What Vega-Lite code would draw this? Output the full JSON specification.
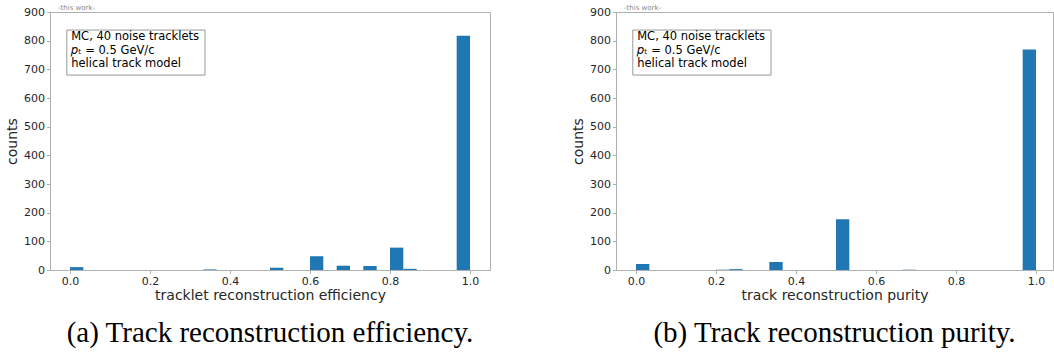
{
  "$schema": "https://vega.github.io/schema/vega-lite/v6.json",
  "background": "white",
  "padding": {"left": 5, "top": 3, "right": 0, "bottom": 5},
  "spacing": 80,
  "config": {
    "view": {"stroke": "#b0b0b0", "strokeWidth": 1},
    "font": "DejaVu Sans",
    "axis": {
      "grid": false,
      "domainColor": "#b0b0b0",
      "tickColor": "#b0b0b0",
      "tickSize": 3.5,
      "labelFont": "DejaVu Sans",
      "labelFontSize": 11,
      "labelColor": "#262626",
      "labelPadding": 2,
      "labelOverlap": false,
      "titleFont": "DejaVu Sans",
      "titleFontSize": 14,
      "titleFontWeight": "normal",
      "titleColor": "#262626"
    }
  },
  "datasets": {
    "eff": [
      {"lo": 0.0, "hi": 0.0333, "count": 10},
      {"lo": 0.3333, "hi": 0.3667, "count": 2},
      {"lo": 0.5, "hi": 0.5333, "count": 8},
      {"lo": 0.6, "hi": 0.6333, "count": 48},
      {"lo": 0.6667, "hi": 0.7, "count": 15},
      {"lo": 0.7333, "hi": 0.7667, "count": 14},
      {"lo": 0.8, "hi": 0.8333, "count": 78},
      {"lo": 0.8333, "hi": 0.8667, "count": 4},
      {"lo": 0.9667, "hi": 1.0, "count": 817}
    ],
    "pur": [
      {"lo": 0.0, "hi": 0.0333, "count": 21},
      {"lo": 0.2, "hi": 0.2333, "count": 1},
      {"lo": 0.2333, "hi": 0.2667, "count": 3},
      {"lo": 0.3333, "hi": 0.3667, "count": 28},
      {"lo": 0.5, "hi": 0.5333, "count": 177},
      {"lo": 0.6667, "hi": 0.7, "count": 1},
      {"lo": 0.9667, "hi": 1.0, "count": 769}
    ],
    "box": [
      {"x1": -0.008, "x2": 0.3375, "y1": 680, "y2": 837, "tx": 0.003, "ty": 833, "label": "MC, 40 noise tracklets\n𝑝ₜ = 0.5 GeV/c\nhelical track model", "tag": "-this work-", "wx": -0.03, "wy": 900}
    ]
  },
  "hconcat": [
    {
      "width": 440,
      "height": 258,
      "title": {"text": "(a) Track reconstruction efficiency.", "orient": "bottom", "anchor": "middle", "frame": "group", "font": "Liberation Serif", "fontSize": 29, "fontWeight": "normal", "color": "black", "offset": 16},
      "layer": [
        {
          "data": {"name": "eff"},
          "mark": {"type": "bar", "color": "#1f77b4"},
          "encoding": {
            "x": {"field": "lo", "type": "quantitative", "scale": {"domain": [-0.05, 1.05], "nice": false, "zero": false}, "axis": {"values": [0, 0.2, 0.4, 0.6, 0.8, 1.0], "format": ".1f", "title": "tracklet reconstruction efficiency", "titlePadding": 2}},
            "x2": {"field": "hi"},
            "y": {"field": "count", "type": "quantitative", "scale": {"domain": [0, 900], "nice": false}, "axis": {"values": [0, 100, 200, 300, 400, 500, 600, 700, 800, 900], "title": "counts", "titlePadding": 4}},
            "y2": {"datum": 0}
          }
        },
        {
          "data": {"name": "box"},
          "mark": {"type": "rect", "fill": "white", "stroke": "#999999", "strokeWidth": 1},
          "encoding": {
            "x": {"field": "x1", "type": "quantitative", "axis": {"values": [0, 0.2, 0.4, 0.6, 0.8, 1.0], "format": ".1f", "title": "tracklet reconstruction efficiency", "titlePadding": 2}},
            "x2": {"field": "x2"},
            "y": {"field": "y1", "type": "quantitative", "axis": {"values": [0, 100, 200, 300, 400, 500, 600, 700, 800, 900], "title": "counts", "titlePadding": 4}},
            "y2": {"field": "y2"}
          }
        },
        {
          "data": {"name": "box"},
          "mark": {"type": "text", "align": "left", "baseline": "top", "fontSize": 11.5, "lineHeight": 13.5, "color": "black", "lineBreak": "\n"},
          "encoding": {
            "x": {"field": "tx", "type": "quantitative", "axis": {"values": [0, 0.2, 0.4, 0.6, 0.8, 1.0], "format": ".1f", "title": "tracklet reconstruction efficiency", "titlePadding": 2}},
            "y": {"field": "ty", "type": "quantitative", "axis": {"values": [0, 100, 200, 300, 400, 500, 600, 700, 800, 900], "title": "counts", "titlePadding": 4}},
            "text": {"field": "label"}
          }
        },
        {
          "data": {"name": "box"},
          "mark": {"type": "text", "align": "left", "baseline": "bottom", "fontSize": 7, "color": "#888888", "dy": -1},
          "encoding": {
            "x": {"field": "wx", "type": "quantitative", "axis": {"values": [0, 0.2, 0.4, 0.6, 0.8, 1.0], "format": ".1f", "title": "tracklet reconstruction efficiency", "titlePadding": 2}},
            "y": {"field": "wy", "type": "quantitative", "axis": {"values": [0, 100, 200, 300, 400, 500, 600, 700, 800, 900], "title": "counts", "titlePadding": 4}},
            "text": {"field": "tag"}
          }
        }
      ]
    },
    {
      "width": 437,
      "height": 258,
      "title": {"text": "(b) Track reconstruction purity.", "orient": "bottom", "anchor": "middle", "frame": "group", "font": "Liberation Serif", "fontSize": 29, "fontWeight": "normal", "color": "black", "offset": 16},
      "layer": [
        {
          "data": {"name": "pur"},
          "mark": {"type": "bar", "color": "#1f77b4"},
          "encoding": {
            "x": {"field": "lo", "type": "quantitative", "scale": {"domain": [-0.05, 1.0425], "nice": false, "zero": false}, "axis": {"values": [0, 0.2, 0.4, 0.6, 0.8, 1.0], "format": ".1f", "title": "track reconstruction purity", "titlePadding": 2}},
            "x2": {"field": "hi"},
            "y": {"field": "count", "type": "quantitative", "scale": {"domain": [0, 900], "nice": false}, "axis": {"values": [0, 100, 200, 300, 400, 500, 600, 700, 800, 900], "title": "counts", "titlePadding": 4}},
            "y2": {"datum": 0}
          }
        },
        {
          "data": {"name": "box"},
          "mark": {"type": "rect", "fill": "white", "stroke": "#999999", "strokeWidth": 1},
          "encoding": {
            "x": {"field": "x1", "type": "quantitative", "axis": {"values": [0, 0.2, 0.4, 0.6, 0.8, 1.0], "format": ".1f", "title": "track reconstruction purity", "titlePadding": 2}},
            "x2": {"field": "x2"},
            "y": {"field": "y1", "type": "quantitative", "axis": {"values": [0, 100, 200, 300, 400, 500, 600, 700, 800, 900], "title": "counts", "titlePadding": 4}},
            "y2": {"field": "y2"}
          }
        },
        {
          "data": {"name": "box"},
          "mark": {"type": "text", "align": "left", "baseline": "top", "fontSize": 11.5, "lineHeight": 13.5, "color": "black", "lineBreak": "\n"},
          "encoding": {
            "x": {"field": "tx", "type": "quantitative", "axis": {"values": [0, 0.2, 0.4, 0.6, 0.8, 1.0], "format": ".1f", "title": "track reconstruction purity", "titlePadding": 2}},
            "y": {"field": "ty", "type": "quantitative", "axis": {"values": [0, 100, 200, 300, 400, 500, 600, 700, 800, 900], "title": "counts", "titlePadding": 4}},
            "text": {"field": "label"}
          }
        },
        {
          "data": {"name": "box"},
          "mark": {"type": "text", "align": "left", "baseline": "bottom", "fontSize": 7, "color": "#888888", "dy": -1},
          "encoding": {
            "x": {"field": "wx", "type": "quantitative", "axis": {"values": [0, 0.2, 0.4, 0.6, 0.8, 1.0], "format": ".1f", "title": "track reconstruction purity", "titlePadding": 2}},
            "y": {"field": "wy", "type": "quantitative", "axis": {"values": [0, 100, 200, 300, 400, 500, 600, 700, 800, 900], "title": "counts", "titlePadding": 4}},
            "text": {"field": "tag"}
          }
        }
      ]
    }
  ]
}
